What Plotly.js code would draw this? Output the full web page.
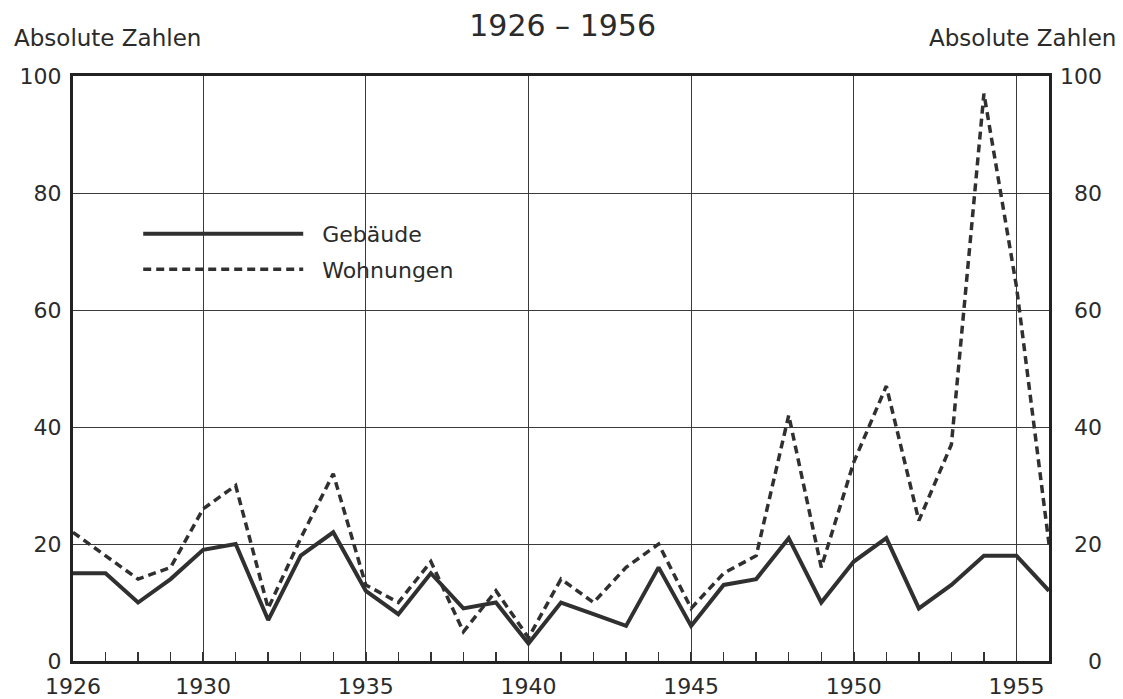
<!DOCTYPE html>
<html>
<head>
<meta charset="utf-8">
<script src="https://cdn.plot.ly/plotly-3.0.1.min.js"></script>
<style>html,body{margin:0;padding:0;background:#fff;}#chart{width:1123px;height:699px;}</style>
</head>
<body>
<div id="chart"></div>
<script>
// ---- data ----
const years = [1926,1927,1928,1929,1930,1931,1932,1933,1934,1935,1936,1937,1938,1939,1940,
               1941,1942,1943,1944,1945,1946,1947,1948,1949,1950,1951,1952,1953,1954,1955,1956];
const gebaeude = [15,15,10,14,19,20,7,18,22,12,8,15,9,10,3,
                  10,8,6,16,6,13,14,21,10,17,21,9,13,18,18,12];
const wohnungen = [22,18,14,16,26,30,9,21,32,13,10,17,5,12,4,
                   14,10,16,20,9,15,18,42,16,34,47,24,37,97,64,20];
const seriesNames = ['Gebäude', 'Wohnungen'];
const xTickVals = [1926,1930,1935,1940,1945,1950,1955];
const xTickText = ['1926','1930','1935','1940','1945','1950','1955'];
const yTickVals = [0,20,40,60,80,100];
const yTickText = ['0','20','40','60','80','100'];
const titleText = '1926 – 1956';
const axisLabel = 'Absolute Zahlen';

const ink = '#2b2b2b';
const font = 'DejaVu Sans';
const gap = '\u00a0\u00a0';

const traces = [
  {x: years, y: gebaeude, name: gap + seriesNames[0], type: 'scatter', mode: 'lines',
   line: {color: '#303030', width: 4}, legendgroup: 'a'},
  {x: years, y: wohnungen, name: gap + seriesNames[1], type: 'scatter', mode: 'lines',
   line: {color: '#303030', width: 3.5, dash: '8px,5px'}, legendgroup: 'b'}
];

const layout = {
  width: 1123, height: 699,
  margin: {l: 73, r: 15, t: 76, b: 38},
  paper_bgcolor: '#fff', plot_bgcolor: '#fff',
  font: {family: font, color: ink, size: 22},
  title: {text: titleText, font: {family: font, size: 30, color: ink},
          xref: 'container', x: 0.501, xanchor: 'center',
          yref: 'container', y: 1 - 25/699, yanchor: 'middle'},
  showlegend: true,
  legend: {x: 0.063, y: 0.766, xanchor: 'left', yanchor: 'top',
           bgcolor: 'rgba(0,0,0,0)', borderwidth: 0,
           font: {family: font, size: 22, color: ink},
           itemwidth: 160, traceorder: 'grouped', tracegroupgap: 4},
  xaxis: {
    domain: [0, 976/1035], range: [1926, 1956],
    tickmode: 'array', tickvals: xTickVals, ticktext: xTickText,
    ticks: 'inside', ticklen: 9, tickwidth: 1.5, tickcolor: '#333',
    showgrid: true, gridcolor: '#3a3a3a', gridwidth: 1,
    showline: true, linecolor: '#222', linewidth: 3, mirror: true,
    zeroline: false, ticklabelstandoff: 4,
    tickfont: {family: font, size: 22, color: ink},
    minor: {tick0: 1926, dtick: 1, ticks: 'inside', ticklen: 9, tickwidth: 1.5,
            tickcolor: '#333', showgrid: false}
  },
  yaxis: {
    range: [0, 100], tickmode: 'array', tickvals: yTickVals, ticktext: yTickText,
    ticks: '', showgrid: true, gridcolor: '#3a3a3a', gridwidth: 1,
    showline: true, linecolor: '#222', linewidth: 3, mirror: true,
    zeroline: false, ticklabelstandoff: 4,
    tickfont: {family: font, size: 22, color: ink}
  },
  yaxis2: {
    overlaying: 'y', anchor: 'free', side: 'left', position: (1102-73)/1035,
    range: [0, 100], tickmode: 'array', tickvals: yTickVals, ticktext: yTickText,
    ticks: '', showgrid: false, showline: false, zeroline: false,
    tickfont: {family: font, size: 22, color: ink}
  },
  annotations: [
    {text: axisLabel, xref: 'paper', yref: 'paper', x: (12-73)/1035, y: 1 + (76-38)/585,
     xanchor: 'left', yanchor: 'middle', showarrow: false,
     font: {family: font, size: 23, color: ink}},
    {text: axisLabel, xref: 'paper', yref: 'paper', x: (1118-73)/1035, y: 1 + (76-38)/585,
     xanchor: 'right', yanchor: 'middle', showarrow: false,
     font: {family: font, size: 23, color: ink}}
  ]
};

// invisible helper trace so the right-hand axis labels are drawn by the library
traces.push({x: [years[0]], y: [null], yaxis: 'y2', showlegend: false, hoverinfo: 'skip',
             type: 'scatter', mode: 'lines'});

Plotly.newPlot('chart', traces, layout, {displayModeBar: false, staticPlot: true});
</script>
</body>
</html>
